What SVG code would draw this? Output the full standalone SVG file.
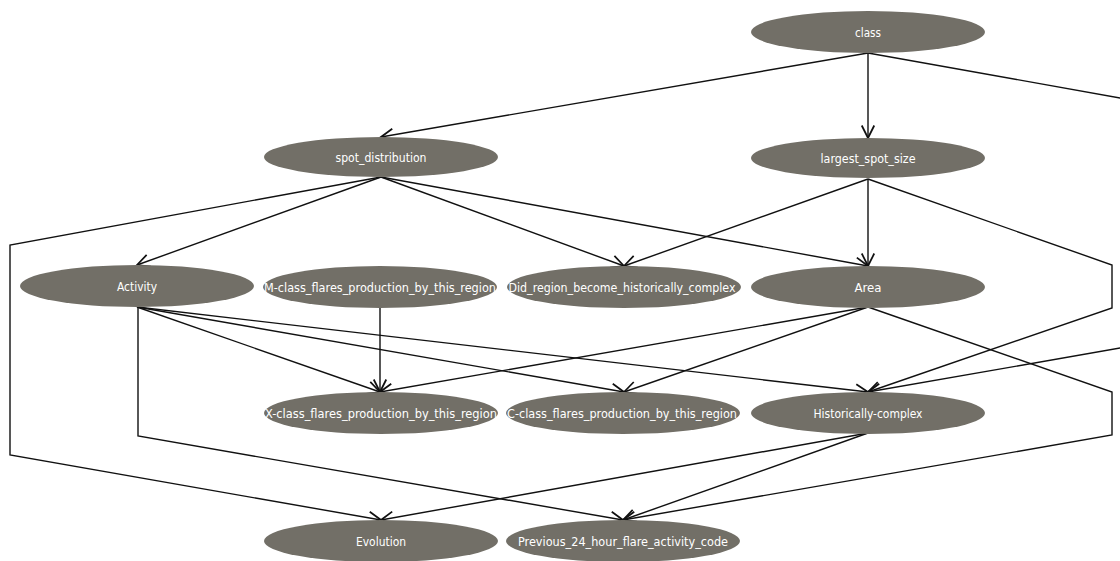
<svg xmlns="http://www.w3.org/2000/svg" width="1120" height="561" viewBox="0 0 1120 561">
<style>
.n ellipse{fill:#726f67;}
.n text{fill:#ffffff;font-family:"DejaVu Sans Condensed","DejaVu Sans",sans-serif;font-size:13px;text-anchor:middle;}
.e path{fill:none;stroke:#111;stroke-width:1.4;}
</style>
<defs>
<marker id="ah" markerUnits="userSpaceOnUse" markerWidth="20" markerHeight="20" refX="0" refY="0" viewBox="-12 -8 14 16" orient="auto">
<path d="M-10,-5 L0,0 L-10,5" fill="none" stroke="#111" stroke-width="1.4"/>
</marker>
</defs>
<rect width="1120" height="561" fill="#ffffff"/>
<g id="edges" class="e">
<path d="M868,53 L381,137" marker-end="url(#ah)"/>
<path d="M868,53 L868,138" marker-end="url(#ah)"/>
<path d="M868,53 L1126,99 L1126,347 L868,392" marker-end="url(#ah)"/>
<path d="M381,177 L137,265" marker-end="url(#ah)"/>
<path d="M381,177 L624,266" marker-end="url(#ah)"/>
<path d="M381,177 L868,266" marker-end="url(#ah)"/>
<path d="M381,177 L10,245 L10,455 L381,520" marker-end="url(#ah)"/>
<path d="M868,179 L624,266" marker-end="url(#ah)"/>
<path d="M868,179 L868,266" marker-end="url(#ah)"/>
<path d="M868,179 L1112,265 L1112,308 L868,392" marker-end="url(#ah)"/>
<path d="M137,307 L380,392" marker-end="url(#ah)"/>
<path d="M137,307 L624,392" marker-end="url(#ah)"/>
<path d="M137,307 L868,392" marker-end="url(#ah)"/>
<path d="M138,307 L138,436 L623,520" marker-end="url(#ah)"/>
<path d="M380,307 L380,392" marker-end="url(#ah)"/>
<path d="M868,307 L380,392" marker-end="url(#ah)"/>
<path d="M868,307 L624,392" marker-end="url(#ah)"/>
<path d="M868,307 L1112,392 L1112,435 L623,520" marker-end="url(#ah)"/>
<path d="M868,433 L381,520" marker-end="url(#ah)"/>
<path d="M868,433 L623,520" marker-end="url(#ah)"/>
</g>
<g id="class" class="n"><ellipse cx="868" cy="32" rx="117" ry="21"/><text x="868" y="37" textLength="26" lengthAdjust="spacingAndGlyphs">class</text></g>
<g id="spot_distribution" class="n"><ellipse cx="381" cy="157" rx="117" ry="20"/><text x="381" y="162" textLength="91" lengthAdjust="spacingAndGlyphs">spot_distribution</text></g>
<g id="largest_spot_size" class="n"><ellipse cx="868" cy="158" rx="117" ry="20"/><text x="868" y="163" textLength="95" lengthAdjust="spacingAndGlyphs">largest_spot_size</text></g>
<g id="Activity" class="n"><ellipse cx="137" cy="286" rx="117" ry="21"/><text x="137" y="291" textLength="40" lengthAdjust="spacingAndGlyphs">Activity</text></g>
<g id="M-class" class="n"><ellipse cx="380" cy="287" rx="117" ry="21"/><text x="380" y="292" textLength="232" lengthAdjust="spacingAndGlyphs">M-class_flares_production_by_this_region</text></g>
<g id="Did_region" class="n"><ellipse cx="624" cy="287" rx="117" ry="21"/><text x="622" y="292" textLength="227" lengthAdjust="spacingAndGlyphs">Did_region_become_historically_complex</text></g>
<g id="Area" class="n"><ellipse cx="868" cy="287" rx="117" ry="21"/><text x="868" y="292" textLength="27" lengthAdjust="spacingAndGlyphs">Area</text></g>
<g id="X-class" class="n"><ellipse cx="381" cy="413" rx="117" ry="21"/><text x="381" y="418" textLength="232" lengthAdjust="spacingAndGlyphs">X-class_flares_production_by_this_region</text></g>
<g id="C-class" class="n"><ellipse cx="623" cy="413" rx="117" ry="21"/><text x="622" y="418" textLength="230" lengthAdjust="spacingAndGlyphs">C-class_flares_production_by_this_region</text></g>
<g id="Historically-complex" class="n"><ellipse cx="868" cy="413" rx="117" ry="21"/><text x="868" y="418" textLength="109" lengthAdjust="spacingAndGlyphs">Historically-complex</text></g>
<g id="Evolution" class="n"><ellipse cx="381" cy="541" rx="117" ry="21"/><text x="381" y="546" textLength="50" lengthAdjust="spacingAndGlyphs">Evolution</text></g>
<g id="Previous" class="n"><ellipse cx="623" cy="541" rx="117" ry="21"/><text x="623" y="546" textLength="210" lengthAdjust="spacingAndGlyphs">Previous_24_hour_flare_activity_code</text></g>
</svg>
